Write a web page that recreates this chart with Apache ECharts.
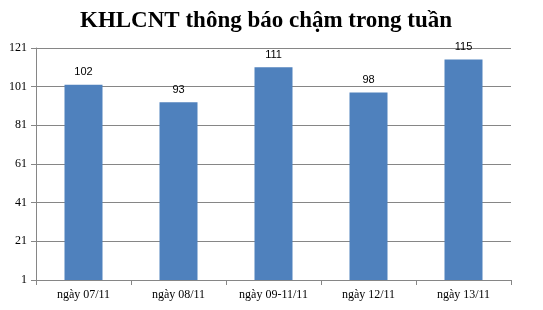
<!DOCTYPE html>
<html><head><meta charset="utf-8">
<script src="https://cdn.jsdelivr.net/npm/echarts@6/dist/echarts.min.js"></script>
<style>html,body{margin:0;padding:0;background:#fff}#c{width:543px;height:310px}</style>
</head><body><div id="c"></div>
<script>
const categories = ["ngày 07/11", "ngày 08/11", "ngày 09-11/11", "ngày 12/11", "ngày 13/11"];
const values = [102, 93, 111, 98, 115];
const yMin = 1, yMax = 121, yStep = 20;

const chart = echarts.init(document.getElementById('c'), null, {renderer: 'canvas'});
chart.setOption({
  animation: false,
  backgroundColor: '#fff',
  title: {
    text: 'KHLCNT thông báo chậm trong tuần',
    left: 75, top: 5,
    textStyle: {fontFamily: 'Liberation Serif', fontWeight: 'bold', fontSize: 23, color: '#000'}
  },
  grid: {left: 36, right: 32, top: 48, bottom: 30},
  xAxis: {
    type: 'category', data: categories,
    axisLine: {lineStyle: {color: '#868686'}},
    axisTick: {show: true, alignWithLabel: false, length: 5, lineStyle: {color: '#868686'}},
    axisLabel: {fontFamily: 'Liberation Serif', fontSize: 12, color: '#000', margin: 9}
  },
  yAxis: {
    type: 'value', min: yMin, max: yMax, interval: yStep,
    axisLine: {show: true, lineStyle: {color: '#868686'}},
    axisTick: {show: true, length: 5, lineStyle: {color: '#868686'}},
    splitLine: {lineStyle: {color: '#868686'}},
    axisLabel: {fontFamily: 'Liberation Serif', fontSize: 12, color: '#000', margin: 9}
  },
  series: [{
    type: 'bar', data: values, barWidth: '40%',
    itemStyle: {color: '#4F81BD'},
    label: {show: true, position: 'top', distance: 7, fontFamily: 'Liberation Sans', fontSize: 11, color: '#000'}
  }]
});
</script></body></html>
